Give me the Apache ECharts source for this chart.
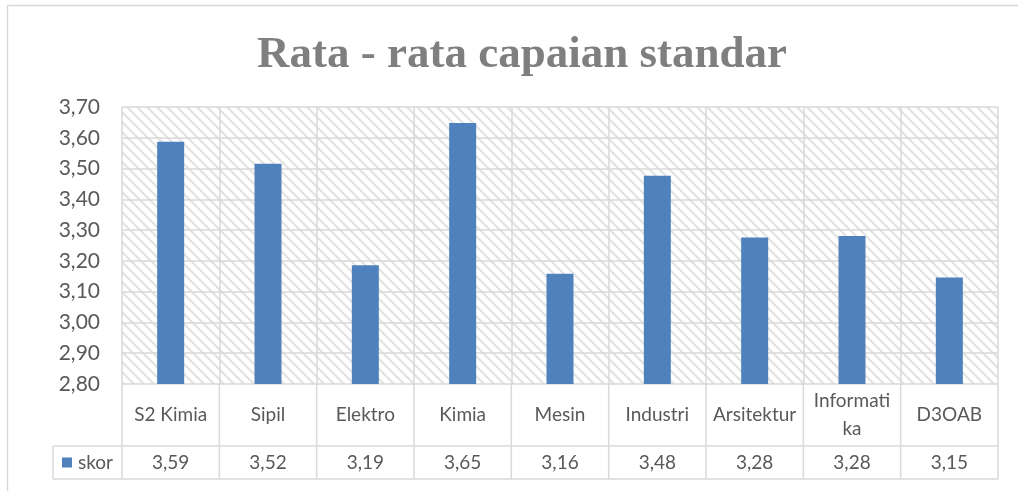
<!DOCTYPE html>
<html>
<head>
<meta charset="utf-8">
<script src="https://cdn.jsdelivr.net/npm/echarts@6/dist/echarts.min.js"></script>
<style>
html,body{margin:0;padding:0;background:#fff;}
#chart{width:1018px;height:491px;}
</style>
</head>
<body>
<div id="chart"></div>
<script>
var titleText = 'Rata - rata capaian standar';
var categories = ['S2 Kimia', 'Sipil', 'Elektro', 'Kimia', 'Mesin', 'Industri', 'Arsitektur', 'Informatika', 'D3OAB'];
var seriesName = 'skor';
var skor = [3.587, 3.516, 3.186, 3.648, 3.158, 3.477, 3.276, 3.281, 3.146];
var yMin = 2.8, yMax = 3.7, yStep = 0.1;

function fmt(v) { return v.toFixed(2).replace('.', ','); }

// hatch pattern
var pc = document.createElement('canvas');
pc.width = 10; pc.height = 10;
var pctx = pc.getContext('2d');
pctx.fillStyle = '#ffffff';
pctx.fillRect(0, 0, 10, 10);
pctx.strokeStyle = '#e2e2e2';
pctx.lineWidth = 2.2;
pctx.beginPath();
pctx.moveTo(-5, -5); pctx.lineTo(15, 15);
pctx.moveTo(-5, 5); pctx.lineTo(5, 15);
pctx.moveTo(5, -5); pctx.lineTo(15, 5);
pctx.stroke();

var FONT = 'Lato';
var GRID_COLOR = '#d9d9d9';
var TEXT_COLOR = '#595959';

var chart = echarts.init(document.getElementById('chart'), null, {renderer: 'canvas'});
var option = {
  animation: false,
  title: {
    text: titleText,
    left: 252,
    top: 28,
    textStyle: {fontFamily: 'Liberation Serif', fontWeight: 'bold', fontSize: 45, color: '#7f7f7f'}
  },
  grid: {
    left: 122, right: 20, top: 107, bottom: 107,
    show: true,
    borderWidth: 0,
    backgroundColor: {image: pc, repeat: 'repeat'}
  },
  xAxis: {
    type: 'category',
    data: categories,
    axisLine: {show: false},
    axisTick: {show: false},
    splitLine: {show: true, lineStyle: {color: GRID_COLOR, width: 1.5}},
    axisLabel: {
      margin: 31,
      interval: 0,
      verticalAlign: 'middle',
      fontFamily: FONT, fontSize: 19, color: TEXT_COLOR,
      width: 84, overflow: 'breakAll', lineHeight: 28
    }
  },
  yAxis: {
    type: 'value',
    min: yMin, max: yMax, interval: yStep,
    axisLine: {show: false},
    axisTick: {show: false},
    splitLine: {show: true, lineStyle: {color: GRID_COLOR, width: 1.5}},
    axisLabel: {
      margin: 22,
      fontFamily: FONT, fontSize: 21, color: TEXT_COLOR,
      formatter: function (v) { return fmt(v); }
    }
  },
  series: [{
    name: seriesName,
    type: 'bar',
    data: skor,
    barWidth: 27,
    itemStyle: {color: '#4f81bd'}
  }]
};
chart.setOption(option);

// data table built from axis positions
var x0 = chart.convertToPixel({xAxisIndex: 0}, 0);
var x1 = chart.convertToPixel({xAxisIndex: 0}, 1);
var band = x1 - x0;
var left = x0 - band / 2;
var right = left + band * categories.length;
var plotBottom = chart.convertToPixel({yAxisIndex: 0}, yMin);
var rowLine = plotBottom + 62;
var tableBottom = plotBottom + 95;
var legendLeft = 53;
var lineStyle = {stroke: GRID_COLOR, lineWidth: 1.5};
var g = [];
g.push({type: 'rect', shape: {x: 7.5, y: 5.5, width: 1100, height: 600}, style: {fill: null, stroke: GRID_COLOR, lineWidth: 1.5}, silent: true});
for (var i = 0; i <= categories.length; i++) {
  var xx = left + band * i;
  g.push({type: 'line', shape: {x1: xx, y1: plotBottom, x2: xx, y2: tableBottom}, style: lineStyle});
}
g.push({type: 'line', shape: {x1: legendLeft, y1: rowLine, x2: right, y2: rowLine}, style: lineStyle});
g.push({type: 'line', shape: {x1: legendLeft, y1: tableBottom, x2: right, y2: tableBottom}, style: lineStyle});
g.push({type: 'line', shape: {x1: legendLeft, y1: rowLine, x2: legendLeft, y2: tableBottom}, style: lineStyle});
g.push({type: 'rect', shape: {x: legendLeft + 9, y: (rowLine + tableBottom) / 2 - 5, width: 10, height: 10}, style: {fill: '#4f81bd'}});
g.push({type: 'text', x: legendLeft + 25, y: (rowLine + tableBottom) / 2, style: {text: seriesName, fontFamily: FONT, fontSize: 19, fill: TEXT_COLOR, textVerticalAlign: 'middle', textAlign: 'left'}});
for (var j = 0; j < skor.length; j++) {
  var cx = chart.convertToPixel({xAxisIndex: 0}, j);
  g.push({type: 'text', x: cx, y: (rowLine + tableBottom) / 2, style: {text: fmt(skor[j]), fontFamily: FONT, fontSize: 19, fill: TEXT_COLOR, textAlign: 'center', textVerticalAlign: 'middle'}});
}
chart.setOption({graphic: {elements: g}});
</script>
</body>
</html>
